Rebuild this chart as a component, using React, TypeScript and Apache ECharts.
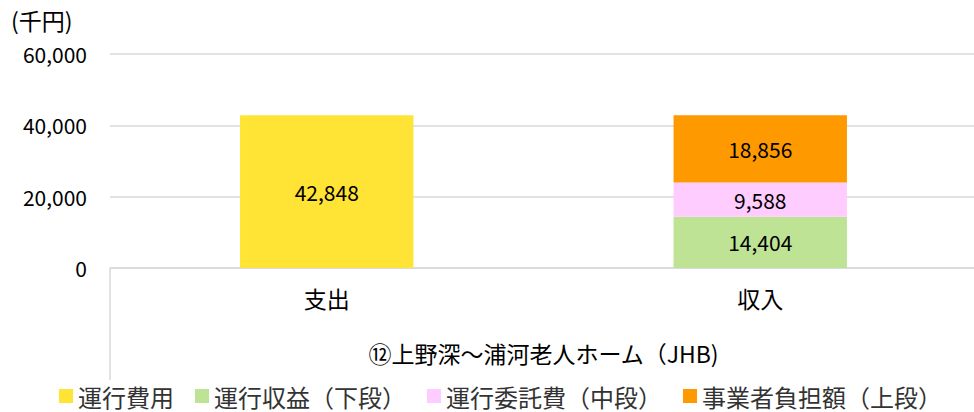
import React, { useEffect, useRef } from "react";
import * as echarts from "echarts";

const categories = ["支出", "収入"];
const groupLabel = ["⑫上野深～浦河老人ホーム（JHB)"];
const seriesNames = ["運行費用", "運行収益（下段）", "運行委託費（中段）", "事業者負担額（上段）"];
const operatingCost = [42848, null];
const operatingRevenue = [null, 14404];
const consignmentFee = [null, 9588];
const operatorBurden = [null, 18856];
const colors = ["#FFE335", "#BEE395", "#FFCCFF", "#FF9900"];
const yTicks = { min: 0, max: 60000, interval: 20000 };

const FONT = "'Noto Sans CJK JP', 'Noto Sans', sans-serif";

export default function App() {
  const ref = useRef<HTMLDivElement>(null);
  useEffect(() => {
    if (!ref.current) return;
    const chart = echarts.init(ref.current, undefined, { renderer: "svg" });
    const label = {
      show: true,
      position: "inside" as const,
      color: "#000",
      fontSize: 21,
      fontFamily: FONT,
      formatter: (p: any) => (p.value == null ? "" : Number(p.value).toLocaleString("en-US")),
    };
    const data = [operatingCost, operatingRevenue, consignmentFee, operatorBurden];
    chart.setOption({
      animation: false,
      textStyle: { fontFamily: FONT },
      title: {
        text: "(千円)",
        left: 6,
        top: 3,
        textStyle: { fontSize: 23, fontWeight: "normal", color: "#000", fontFamily: FONT },
      },
      legend: {
        bottom: -1,
        left: 54,
        icon: "rect",
        itemWidth: 14,
        itemHeight: 14,
        itemGap: 21,
        textStyle: { fontSize: 24, color: "#333", fontFamily: FONT },
        data: seriesNames,
      },
      grid: { left: 110, right: 0, top: 54, bottom: 144, containLabel: false },
      xAxis: [
        {
          type: "category",
          data: categories,
          axisLine: { show: true, lineStyle: { color: "#d9d9d9", width: 1.5 } },
          axisTick: { show: false },
          axisLabel: { margin: 18, fontSize: 23, color: "#000", fontFamily: FONT },
        },
        {
          type: "category",
          position: "bottom",
          data: groupLabel,
          axisLine: { show: false },
          axisTick: { show: true, length: 112, lineStyle: { color: "#d9d9d9", width: 1.5 } },
          axisLabel: { margin: 73, fontSize: 23, color: "#000", fontFamily: FONT },
          splitLine: { show: false },
        },
      ],
      yAxis: {
        type: "value",
        min: yTicks.min,
        max: yTicks.max,
        interval: yTicks.interval,
        axisLine: { show: false },
        axisTick: { show: false },
        axisLabel: {
          margin: 23,
          fontSize: 21,
          color: "#000",
          fontFamily: FONT,
          formatter: (v: number) => v.toLocaleString("en-US"),
        },
        splitLine: { lineStyle: { color: "#d9d9d9", width: 1.5 } },
      },
      series: seriesNames.map((name, i) => ({
        name,
        type: "bar",
        stack: "total",
        xAxisIndex: 0,
        barWidth: "40%",
        itemStyle: { color: colors[i] },
        label,
        data: data[i],
      })),
    });
    return () => chart.dispose();
  }, []);
  return (
    <div
      ref={ref}
      style={{ position: "fixed", left: 0, top: 0, width: 977, height: 412, background: "#fff" }}
    />
  );
}
